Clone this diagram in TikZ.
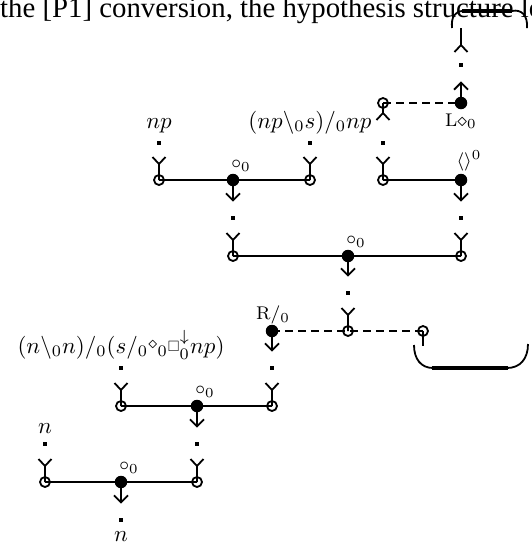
\documentclass[tikz,border=0pt]{standalone}
\usepackage{fontspec}
\usepackage{amssymb}
\usepackage{graphicx}
\usetikzlibrary{arrows.meta}
\newfontfamily\bodyfont{Liberation Serif}

% Y-shaped input fork sitting on top of a hollow port
\newcommand\infork[1]{%
  \draw[wire] (#1.center) -- ++(0,-16) coordinate (#1j) -- ++(-6.5,-7)
              (#1j) -- ++(6.5,-7);}
% formulas are set at 10pt and enlarged, small labels at 8pt
\newcommand\fml[1]{\scalebox{2.3}{$#1$}}
\newcommand\lnk[1]{\scalebox{2.3}{\footnotesize$#1$}}

\begin{document}
\begin{tikzpicture}[x=1pt,y=-1pt,
  wire/.style={line width=1.8pt,line cap=butt},
  dashwire/.style={wire,dash pattern=on 8pt off 5pt},
  hollow/.style={circle,draw,line width=1.8pt,inner sep=0pt,minimum size=10pt},
  solid/.style={circle,fill,inner sep=0pt,minimum size=12.5pt},
  sq/.style={rectangle,fill,inner sep=0pt,minimum size=4.5pt},
  tip/.style={wire,-{Straight Barb[length=7pt,width=14pt]},shorten >=14pt},
  mathlbl/.style={inner sep=0pt,anchor=base},
  small/.style={inner sep=0pt},
  bar/.style={line width=4pt},
]
\useasboundingbox (0,0) rectangle (532,550);

% running text above the figure
\node[anchor=base west,inner sep=0pt,font=\bodyfont\fontsize{28.8}{30}\selectfont]
  (txt) at (0,17) {the [P1] conversion, the hypothesis structure lo};

% ---- ports ----
% row 0
\node[hollow] (h0) at (383,103) {};
\node[solid]  (d0) at (461,103) {};
% row 1
\node[hollow] (a1) at (159,180) {};
\node[solid]  (b1) at (233,180) {};
\node[hollow] (c1) at (310,180) {};
\node[hollow] (e1) at (383,180) {};
\node[solid]  (f1) at (461,180) {};
% row 2
\node[hollow] (a2) at (233,256) {};
\node[solid]  (b2) at (348,256) {};
\node[hollow] (c2) at (461,256) {};
% row 3
\node[solid]  (r3) at (272,331) {};
\node[hollow] (m3) at (348,331) {};
\node[hollow] (k3) at (423,331) {};
% row 4
\node[hollow] (a4) at (121,406) {};
\node[solid]  (b4) at (197,406) {};
\node[hollow] (c4) at (272,406) {};
% row 5
\node[hollow] (a5) at (45,482) {};
\node[solid]  (b5) at (121,482) {};
\node[hollow] (c5) at (197,482) {};

% ---- axiom links (small squares) ----
\node[sq] (t0)  at (461,65) {};
\node[sq] (qa1) at (159,143) {};
\node[sq] (qc1) at (310,143) {};
\node[sq] (qe1) at (383,143) {};
\node[sq] (qa2) at (233,218) {};
\node[sq] (qc2) at (461,218) {};
\node[sq] (qm3) at (348,293) {};
\node[sq] (qa4) at (121,368) {};
\node[sq] (qc4) at (272,368) {};
\node[sq] (qa5) at (45,444) {};
\node[sq] (qc5) at (197,444) {};
\node[sq] (q6)  at (121,520) {};

% ---- formulas ----
\node[mathlbl] (la1) at (159,128) {\fml{np}};
\node[mathlbl] (lc1) at (310,128) {\fml{(np\backslash_0 s)/_0 np}};
\node[mathlbl] (la4) at (121,353)
  {\fml{(n\backslash_0 n)/_0(s/_0\raisebox{2pt}{$\scriptstyle\diamond$}_0
        \raisebox{0.5pt}{\scalebox{0.65}{$\Box$}}^{\downarrow}_0 np)}};
\node[mathlbl] (la5) at (45,433) {\fml{n}};
\node[mathlbl] (lq6) at (121,541) {\fml{n}};

% ---- link labels ----
\path (b1.center) ++(8,-14) node[small] (lb1) {\lnk{\circ_0}};
\path (b2.center) ++(8,-14) node[small] (lb2) {\lnk{\circ_0}};
\path (b4.center) ++(8,-14) node[small] (lb4) {\lnk{\circ_0}};
\path (b5.center) ++(8,-14) node[small] (lb5) {\lnk{\circ_0}};
\path (f1.center) ++(8,-19) node[small] (lf1) {\lnk{\langle\rangle^0}};
\path (d0.center) ++(0,18) node[small] (ld0) {\lnk{\mathrm{L}{\diamond}_0}};
\path (r3.center) ++(1,-16) node[small] (lr3) {\lnk{\mathrm{R}/_0}};

% ---- tensor links ----
\draw[wire] (a1.center) -- (c1.center);
\draw[wire] (e1.center) -- (f1.center);
\draw[wire] (a2.center) -- (c2.center);
\draw[wire] (a4.center) -- (c4.center);
\draw[wire] (a5.center) -- (c5.center);
\draw[dashwire] (h0.center) -- (d0.center);
\draw[dashwire] (r3.center) -- (k3.center);

% ---- conclusions (arrows) ----
\draw[tip] (b1) -- (qa2);
\draw[tip] (f1) -- (qc2);
\draw[tip] (b2) -- (qm3);
\draw[tip] (r3) -- (qc4);
\draw[tip] (b4) -- (qc5);
\draw[tip] (b5) -- (q6);
\draw[tip] (d0) -- (t0);

% ---- premises (forks) ----
\infork{a1}\infork{c1}\infork{e1}
\infork{a2}\infork{c2}
\infork{m3}
\infork{a4}\infork{c4}
\infork{a5}\infork{c5}

% inverted forks
\draw[wire] (h0.center) -- ++(0,10) coordinate (h0j) -- ++(-6.5,7)
            (h0j) -- ++(6.5,7);
\coordinate (tj) at (461,45);
\coordinate (tt) at (461,28);
\draw[wire] (tt) -- (tj) -- ++(-6.5,7) (tj) -- ++(6.5,7);

% tail of the hollow port on the right
\draw[line width=2.6pt] (k3.center) -- ++(0,15);

% ---- brackets ----
\draw[wire] (452,28) .. controls (451,17) and (455,11) .. (463,11);
\draw[bar] (462,11) -- (512,11);
\draw[wire] (512,11) .. controls (521,9) and (528,15) .. (527,28);

\draw[wire] (414,345) .. controls (414,359) and (421,368) .. (433,368);
\draw[bar] (432,368) -- (508,368);
\draw[wire] (507,368) .. controls (520,368) and (528,359) .. (528,344);
\end{tikzpicture}
\end{document}
